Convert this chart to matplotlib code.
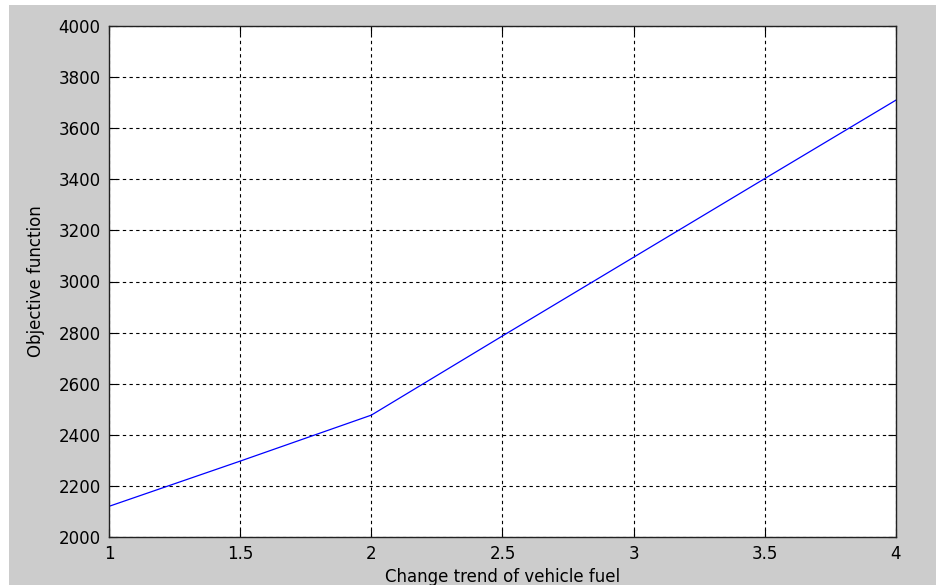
import matplotlib.pyplot as plt
from matplotlib.patches import Rectangle

# fuel change trend vs objective function value
fuel_trend = [1.0, 1.5, 2.0, 2.5, 3.0, 3.5, 4.0]
objective = [2120, 2297, 2477, 2787, 3095, 3403, 3710]

x_ticks = [1, 1.5, 2, 2.5, 3, 3.5, 4]
x_tick_labels = ['1', '1.5', '2', '2.5', '3', '3.5', '4']
y_ticks = list(range(2000, 4001, 200))

plt.rcParams['font.family'] = ['DejaVu Sans']

fig = plt.figure(figsize=(9.37, 5.85), dpi=100, facecolor='white')
# grey window background with a thin white margin at top and left
fig.patches.append(Rectangle((9 / 937, 0), 1, 1 - 5 / 585, transform=fig.transFigure,
                             facecolor='#cccccc', edgecolor='none', zorder=-1))

ax = fig.add_axes([109 / 937, 48 / 585, 787 / 937, 511 / 585])
ax.set_facecolor('white')
ax.plot(fuel_trend, objective, color='#0000ff', linewidth=0.9)

ax.set_xlim(1, 4)
ax.set_ylim(2000, 4000)
ax.set_xticks(x_ticks)
ax.set_xticklabels(x_tick_labels)
ax.set_yticks(y_ticks)

ax.grid(True, color='black', linestyle=(0, (3, 3)), linewidth=0.8)
ax.tick_params(direction='in', length=6, width=0.8, top=True, right=True,
               labelsize=12, colors='black')
ax.tick_params(axis='x', pad=6)
ax.tick_params(axis='y', pad=6)
for sp in ax.spines.values():
    sp.set_linewidth(1.0)
    sp.set_color('#222222')

ax.set_xlabel('Change trend of vehicle fuel', fontsize=12, labelpad=3)
ax.set_ylabel('Objective function', fontsize=12, labelpad=10)

fig.savefig('out.png', dpi=100, facecolor=fig.get_facecolor())
